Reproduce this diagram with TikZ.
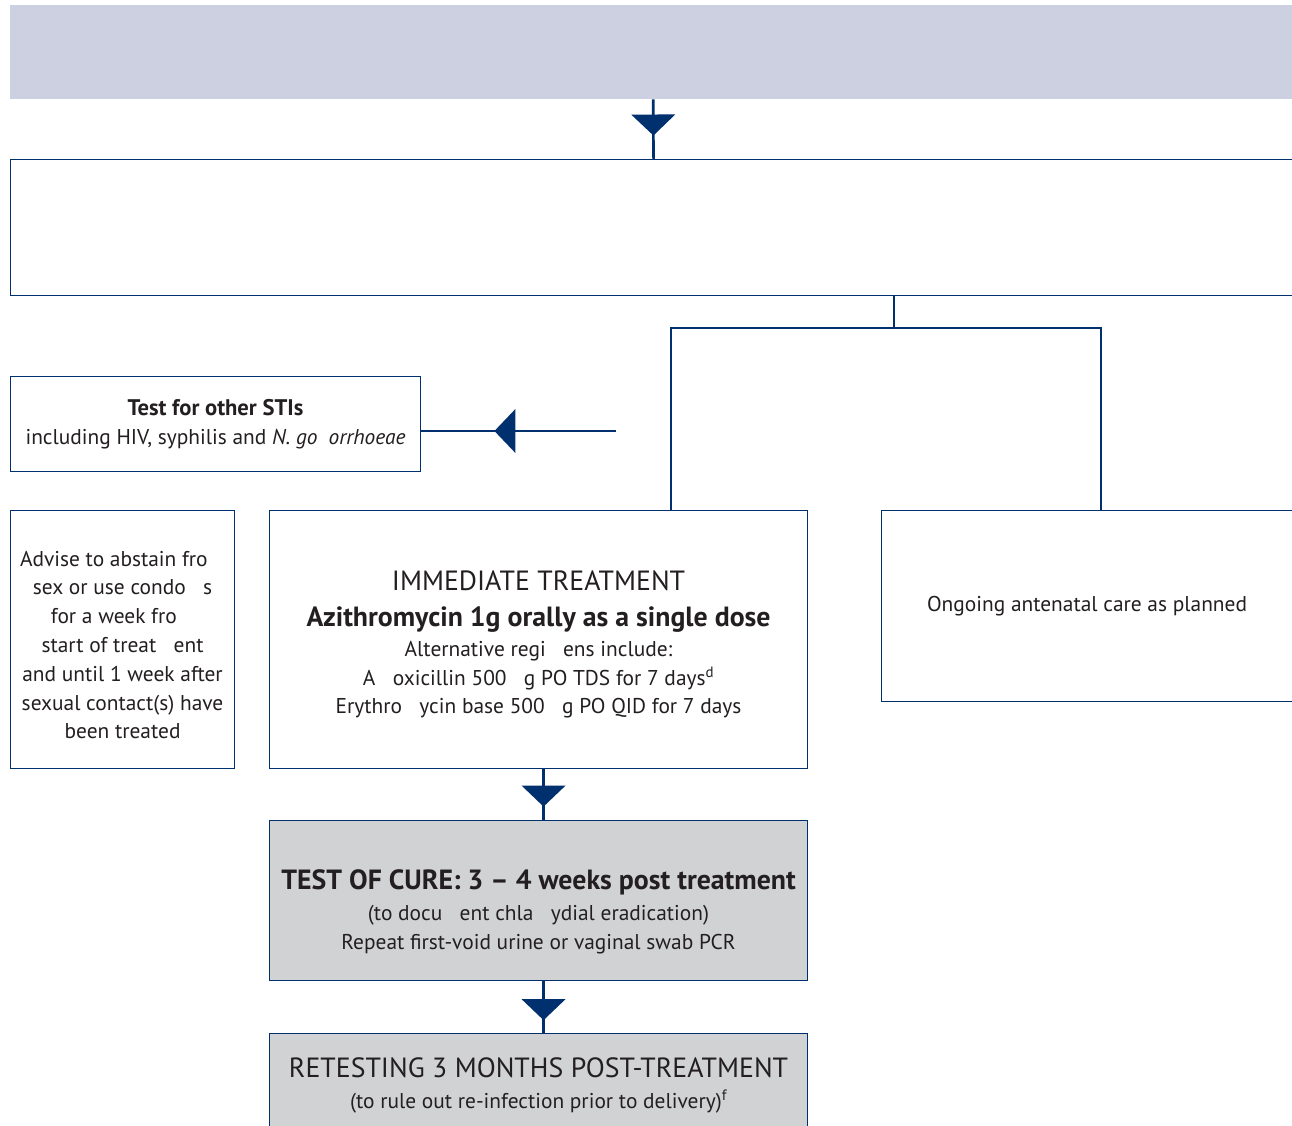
\documentclass[tikz,border=0pt]{standalone}
\usepackage{fontspec}
\setmainfont{PT Sans}
\usetikzlibrary{decorations.markings}

\definecolor{navy}{RGB}{0,48,110}
\definecolor{bandfill}{RGB}{204,208,224}
\definecolor{curefill}{RGB}{209,210,212}
\definecolor{txt}{RGB}{35,31,32}

\tikzset{
  box/.style={draw=navy, line width=1.1pt, anchor=north west, inner sep=0pt,
    align=center, text=txt, font=\fontsize{21.4}{28.8}\selectfont},
  greybox/.style={box, fill=curefill},
  link/.style={draw=navy, line width=2.6pt},
  tri/.style={postaction={decorate}, decoration={markings,
    mark=at position #1 with {\fill[navy] (-10.5pt,22pt) -- (10.5pt,0pt) -- (-10.5pt,-22pt) -- cycle;}}},
}
\newcommand{\bigline}{\fontsize{27.8}{28.8}\selectfont}

\begin{document}
\begin{tikzpicture}[x=1pt,y=-1pt]
\path[use as bounding box, clip] (0,0) rectangle (1292,1126);
\fill[white] (0,0) rectangle (1292,1126);

% header band and the wide box below it
\node[anchor=north west, fill=bandfill, inner sep=0pt, minimum width=1282pt, minimum height=94pt] (band) at (10,5) {};
\node[box, minimum width=1282pt, minimum height=136pt] (main) at (10,159) {};

% side boxes
\node[box, minimum width=410pt, minimum height=95pt] (sti) at (10,376)
  {{\fontsize{22.6}{28.8}\selectfont\bfseries Test for other STIs}\\ including HIV, syphilis and \textit{N. go\phantom{n}orrhoeae}};

\node[box, minimum width=224pt, minimum height=258pt] (advise) at (10,510)
  {\rule{0pt}{26pt}Advise to abstain fro\phantom{m}\\ sex or use condo\phantom{m}s\\ for a week fro\phantom{m}\\ start of treat\phantom{m}ent\\ and until 1 week after\\ sexual contact(s) have\\ been treated};

\node[box, minimum width=538pt, minimum height=258pt] (treat) at (269,510)
  {{\rule{0pt}{30pt}\bigline IMMEDIATE TREATMENT}\\[7pt]
   {\bigline\bfseries Azithromycin 1g orally as a single dose}\\[1pt]
   Alternative regi\phantom{m}ens include:\\
   A\phantom{m}oxicillin 500\phantom{m}g PO TDS for 7 days\textsuperscript{d}\\
   Erythro\phantom{m}ycin base 500\phantom{m}g PO QID for 7 days};

\node[box, minimum width=411pt, minimum height=191pt] (care) at (881,510)
  {Ongoing antenatal care as planned};

\node[greybox, minimum width=538pt, minimum height=160pt] (cure) at (269,820)
  {{\rule{0pt}{42pt}\bigline\bfseries TEST OF CURE: 3 -- 4 weeks post treatment}\\[2pt]
   (to docu\phantom{m}ent chla\phantom{m}ydial eradication)\\
   Repeat first-void urine or vaginal swab PCR};

\node[greybox, minimum width=538pt, minimum height=103pt] (retest) at (269,1033)
  {{\bigline RETESTING 3 MONTHS POST-TREATMENT}\\[2pt]
   (to rule out re-infection prior to delivery)\textsuperscript{f}};

% connectors
\coordinate (split) at (894,328);
\coordinate (bl) at (671,328);
\coordinate (br) at (1101,328);
\coordinate (lstart) at (616,431);

\draw[link, tri=0.43] ([xshift=2pt]band.south) -- ([xshift=2pt]main.north);
\draw[link] (main.south -| split) -- (split);
\draw[link] (treat.north -| bl) -- (bl) -- (br) -- (care.north -| br);
\draw[link, tri=0.57] (lstart) -- (sti.east |- lstart);
\draw[link, tri=0.53] ([xshift=5pt]treat.south) -- ([xshift=5pt]cure.north);
\draw[link, tri=0.55] ([xshift=5pt]cure.south) -- ([xshift=5pt]retest.north);
\end{tikzpicture}
\end{document}
